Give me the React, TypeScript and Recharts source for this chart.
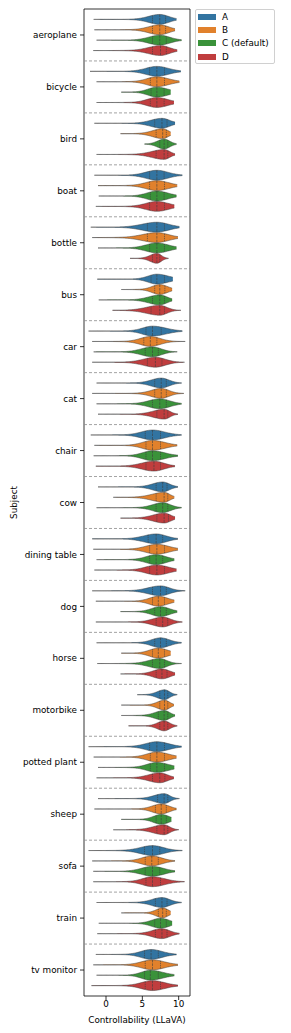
import React from 'react'
import {
	Area,
	ComposedChart,
	Legend,
	ReferenceArea,
	ReferenceLine,
	XAxis,
	YAxis,
} from 'recharts'

const subjects = [
	'aeroplane',
	'bicycle',
	'bird',
	'boat',
	'bottle',
	'bus',
	'car',
	'cat',
	'chair',
	'cow',
	'dining table',
	'dog',
	'horse',
	'motorbike',
	'potted plant',
	'sheep',
	'sofa',
	'train',
	'tv monitor',
]

const hues = ['A', 'B', 'C (default)', 'D']
const hueColors = ['#3274a1', '#e1812c', '#3a923a', '#c03d3e']

// per subject: [min, q1, median, q3, max]
const statsA = [
	[-1.7, 6.4, 7.4, 8.2, 9.7],
	[-2.2, 6.0, 7.0, 8.05, 10.3],
	[-1.6, 6.7, 7.7, 8.4, 9.5],
	[-1.6, 6.0, 7.0, 8.0, 10.5],
	[-2.1, 5.7, 7.0, 8.05, 10.1],
	[-1.2, 6.2, 7.0, 8.05, 9.2],
	[-2.4, 5.5, 6.4, 7.6, 10.5],
	[-1.3, 6.7, 7.6, 8.3, 10.4],
	[-2.1, 5.4, 6.4, 7.5, 10.4],
	[-1.1, 6.9, 7.8, 8.4, 9.9],
	[-1.9, 5.8, 6.9, 7.8, 9.9],
	[-1.9, 6.4, 7.5, 8.3, 10.9],
	[-1.3, 6.7, 7.5, 8.3, 10.4],
	[4.3, 7.4, 8.05, 8.5, 9.8],
	[-2.4, 6.0, 7.0, 8.05, 10.4],
	[-1.1, 7.1, 8.0, 8.5, 10.1],
	[-2.4, 5.3, 6.4, 7.4, 10.5],
	[-1.3, 6.8, 7.7, 8.4, 10.4],
	[-1.4, 5.3, 6.2, 7.2, 9.7],
]

const statsB = [
	[-1.6, 6.4, 7.4, 8.2, 9.5],
	[-1.3, 6.1, 7.0, 8.05, 10.1],
	[2.0, 6.9, 7.8, 8.3, 8.9],
	[-1.1, 6.0, 7.0, 8.05, 9.8],
	[-1.9, 5.7, 7.0, 8.05, 9.9],
	[2.1, 6.7, 7.4, 8.1, 9.1],
	[-1.9, 5.2, 6.1, 7.0, 10.9],
	[-1.9, 6.7, 7.6, 8.3, 10.7],
	[-1.6, 5.5, 6.4, 7.5, 9.8],
	[1.0, 6.9, 8.0, 8.5, 9.4],
	[-1.75, 6.0, 7.0, 8.05, 9.9],
	[-1.4, 6.4, 7.2, 8.05, 9.4],
	[2.1, 6.4, 7.2, 8.05, 8.9],
	[2.1, 7.4, 8.05, 8.5, 9.35],
	[-1.7, 6.1, 7.0, 8.05, 9.7],
	[-1.6, 6.8, 7.6, 8.3, 9.7],
	[-1.9, 5.4, 6.3, 7.2, 9.5],
	[2.1, 7.2, 7.8, 8.3, 8.9],
	[-1.75, 5.4, 6.4, 7.5, 9.9],
]

const statsC = [
	[-1.3, 6.4, 7.4, 8.3, 10.4],
	[2.1, 6.2, 7.0, 8.0, 8.9],
	[5.3, 7.4, 8.0, 8.5, 9.7],
	[-1.0, 6.1, 7.0, 8.0, 9.7],
	[-1.1, 6.0, 7.0, 8.05, 9.7],
	[-1.0, 6.4, 7.4, 8.05, 9.1],
	[-1.7, 5.4, 6.4, 7.2, 9.8],
	[-1.3, 6.4, 7.4, 8.3, 10.4],
	[-1.7, 5.5, 6.4, 7.5, 9.9],
	[-1.3, 6.9, 7.8, 8.5, 10.4],
	[-1.3, 6.0, 6.9, 7.8, 9.4],
	[2.0, 6.7, 7.5, 8.3, 9.8],
	[-1.2, 6.4, 7.4, 8.05, 10.4],
	[2.1, 7.2, 8.0, 8.5, 9.5],
	[-1.1, 6.1, 7.0, 8.05, 9.4],
	[2.1, 6.9, 7.6, 8.3, 9.0],
	[-1.75, 5.4, 6.4, 7.4, 9.5],
	[-1.0, 6.7, 7.5, 8.3, 9.1],
	[-1.3, 5.3, 6.1, 7.2, 9.4],
]

const statsD = [
	[-1.75, 6.4, 7.5, 8.3, 9.8],
	[-1.3, 6.1, 7.0, 8.0, 9.35],
	[-1.3, 6.9, 8.0, 8.5, 9.5],
	[-1.4, 6.0, 7.0, 8.05, 9.4],
	[3.3, 6.4, 7.0, 7.4, 8.6],
	[0.9, 6.2, 7.4, 8.05, 10.3],
	[-1.9, 5.7, 6.8, 7.7, 10.8],
	[-1.1, 7.0, 8.0, 8.5, 9.9],
	[-1.4, 5.5, 6.6, 7.5, 9.5],
	[2.0, 7.0, 8.0, 8.6, 9.5],
	[-1.6, 6.0, 7.0, 8.05, 9.7],
	[-1.4, 6.9, 7.8, 8.5, 10.5],
	[2.0, 6.9, 7.7, 8.4, 9.5],
	[3.1, 7.4, 8.0, 8.5, 9.8],
	[-1.3, 6.4, 7.4, 8.1, 9.35],
	[1.0, 7.0, 8.0, 8.5, 10.0],
	[-1.75, 5.5, 6.4, 7.5, 10.8],
	[-1.2, 6.8, 7.7, 8.4, 10.1],
	[-2.0, 5.4, 6.4, 7.5, 9.9],
]

const hueStats = [statsA, statsB, statsC, statsD]
const xTicks = [0, 5, 10]
const xDomain = [-3.03, 11.56]

const SLOT = 0.2
const HALF = 0.095
const FONT = 'DejaVu Sans'

// violin outline width (0..1) at x, from the summary values
const shape = (x, st) => {
	const [, q1, med, q3] = st
	const sL = Math.max((med - q1) / 0.674, 0.25)
	const sR = Math.max((q3 - med) / 0.674, 0.25)
	const d = x - med
	const s = d < 0 ? sL : sR
	const main = Math.exp(-0.5 * (d / s) ** 2)
	const tail = 0.08 * Math.exp(-0.5 * (d / ((d < 0 ? 2.2 : 1.4) * s)) ** 2)
	return (main + tail) / 1.08
}

const centerOf = (i, h) => i + 0.5 + (h - 1.5) * SLOT

const violinData = (st, c) => {
	const n = 90
	const pts = []
	for (let k = 0; k <= n; k++) {
		const x = st[0] + ((st[4] - st[0]) * k) / n
		const w = HALF * shape(x, st)
		pts.push({ x, r: [c - w, c + w] })
	}
	return pts
}

const LegendBox = () => (
	<div
		style={{
			width: 80,
			boxSizing: 'border-box',
			border: '1px solid #d0d0d0',
			borderRadius: 2,
			background: '#fff',
			fontFamily: FONT,
			fontSize: 8.8,
			color: '#000',
		}}
	>
		{hues.map((name, h) => (
			<div
				key={name}
				style={{ height: 13.3, display: 'flex', alignItems: 'center' }}
			>
				<span
					style={{
						display: 'inline-block',
						width: 18,
						height: 6,
						marginLeft: 2,
						marginRight: 6,
						background: hueColors[h],
					}}
				/>
				<span>{name}</span>
			</div>
		))}
	</div>
)

const App = () => {
	return (
		<div style={{ fontFamily: FONT }}>
			<style>{'body{margin:0}'}</style>
			<ComposedChart
				width={291}
				height={1033}
				margin={{ top: 9, right: 101, left: 0, bottom: 10 }}
			>
				<XAxis
					type='number'
					dataKey='x'
					domain={xDomain}
					allowDataOverflow
					ticks={xTicks}
					height={27}
					tickSize={4}
					tickMargin={1}
					axisLine={false}
					tickLine={{ stroke: '#000', strokeWidth: 0.8 }}
					tick={{ fill: '#000', fontSize: 8.8, fontFamily: FONT }}
					label={{
						value: 'Controllability (LLaVA)',
						position: 'insideBottom',
						offset: 0,
						style: { fill: '#000', fontSize: 8.8, fontFamily: FONT },
					}}
				/>
				<YAxis
					type='number'
					domain={[0, subjects.length]}
					allowDataOverflow
					reversed
					ticks={subjects.map((_, i) => i + 0.5)}
					tickFormatter={(v) => subjects[Math.round(v - 0.5)]}
					interval={0}
					width={84}
					tickSize={4}
					tickMargin={3}
					axisLine={false}
					tickLine={{ stroke: '#000', strokeWidth: 0.8 }}
					tick={{ fill: '#000', fontSize: 8.8, fontFamily: FONT }}
					label={{
						value: 'Subject',
						angle: -90,
						position: 'insideLeft',
						offset: 14,
						style: {
							fill: '#000',
							fontSize: 8.8,
							fontFamily: FONT,
							textAnchor: 'middle',
						},
					}}
				/>
				<Legend
					layout='horizontal'
					verticalAlign='middle'
					align='center'
					wrapperStyle={{ top: 9, left: 195, width: 80 }}
					content={() => <LegendBox />}
				/>
				{subjects.slice(1).map((_, i) => (
					<ReferenceLine
						key={'sep' + i}
						y={i + 1}
						stroke='#8c8c8c'
						strokeWidth={0.8}
						strokeDasharray='3 2'
					/>
				))}
				{hueStats.map((stats, h) =>
					stats.map((st, i) => (
						<Area
							key={`v-${h}-${i}`}
							data={violinData(st, centerOf(i, h))}
							dataKey='r'
							type='linear'
							fill={hueColors[h]}
							fillOpacity={1}
							stroke='#3d3d3d'
							strokeWidth={0.5}
							dot={false}
							activeDot={false}
							legendType='none'
							isAnimationActive={false}
						/>
					))
				)}
				{hueStats.map((stats, h) =>
					stats.map((st, i) =>
						[1, 2, 3].map((k) => {
							const c = centerOf(i, h)
							const w = HALF * shape(st[k], st)
							return (
								<ReferenceLine
									key={`q-${h}-${i}-${k}`}
									segment={[
										{ x: st[k], y: c - w },
										{ x: st[k], y: c + w },
									]}
									stroke='#3d3d3d'
									strokeWidth={0.6}
									strokeDasharray={k === 2 ? '2.5 1' : '1.3 0.8'}
								/>
							)
						})
					)
				)}
				<ReferenceArea
					x1={xDomain[0]}
					x2={xDomain[1]}
					y1={0}
					y2={subjects.length}
					fill='none'
					stroke='#000'
					strokeWidth={0.8}
				/>
			</ComposedChart>
		</div>
	)
}

export default App
